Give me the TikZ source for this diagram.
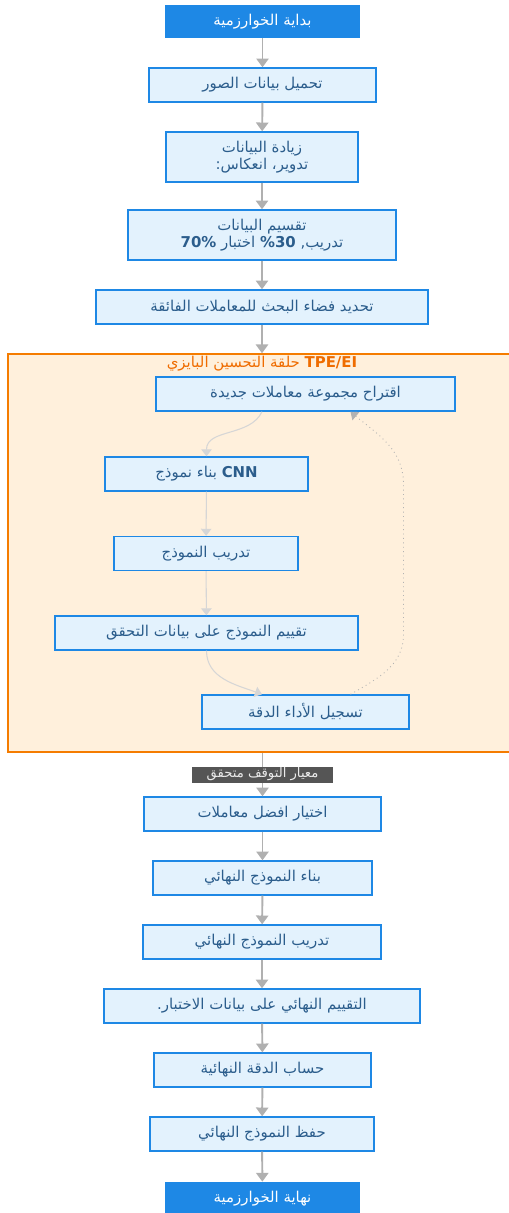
\documentclass[tikz,border=0pt]{standalone}
\usepackage{fontspec}
\usetikzlibrary{arrows.meta,calc}
\TeXXeTstate=1
\newfontfamily\arabicfont[Script=Arabic]{DejaVu Sans}
\newcommand{\artxt}[1]{\beginR #1\endR}
\definecolor{stepblue}{HTML}{1E88E5}
\definecolor{stepfill}{HTML}{E3F2FD}
\definecolor{steptext}{HTML}{2B5D8C}
\definecolor{loopfill}{HTML}{FFF0DC}
\definecolor{loopdraw}{HTML}{F57C00}
\definecolor{looptext}{HTML}{EF6C00}
\definecolor{flowgray}{HTML}{B0B0B0}
\definecolor{innergray}{HTML}{D6D6D6}
\definecolor{tagfill}{HTML}{555555}
\tikzset{
  base/.style={rectangle,inner sep=0pt,align=center,font=\arabicfont\fontsize{8.5}{10}\selectfont},
  terminal/.style={base,fill=stepblue,text=white,minimum width=39mm,minimum height=6.6mm},
  stepbox/.style={base,fill=stepfill,draw=stepblue,line width=0.8pt,text=steptext,minimum height=6.8mm},
  loopbox/.style={rectangle,fill=loopfill,draw=loopdraw,line width=0.9pt,minimum width=100.8mm,minimum height=79.6mm},
  looptitle/.style={font=\arabicfont\fontsize{8.5}{10}\selectfont,text=looptext,inner sep=0pt},
  tag/.style={rectangle,fill=tagfill,text=black!8,inner sep=0pt,minimum width=28.4mm,minimum height=3.2mm,font=\arabicfont\fontsize{7.5}{8}\selectfont},
  flow/.style={draw=flowgray,line width=1.1pt,-{Triangle[length=5pt,width=7pt]}},
  inner/.style={draw=innergray,line width=0.6pt,-{Triangle[length=4pt,width=6pt]}},
  back/.style={draw=black!30,line width=0.5pt,dotted,-{Triangle[length=4pt,width=6pt]}}
}
\begin{document}
\begin{tikzpicture}[x=0.02cm,y=-0.02cm]
\useasboundingbox (0,0) rectangle (509,1213);
% main chain, top part
\node[terminal] (start) at (262.5,21.5) {\artxt{بداية الخوارزمية}};
\node[stepbox,minimum width=45.4mm] (load) at (262.5,85) {\artxt{تحميل بيانات الصور}};
\node[stepbox,minimum width=38.4mm,minimum height=10mm] (augment) at (262,157) {\artxt{زيادة البيانات}\\\artxt{تدوير، انعكاس:}};
\node[stepbox,minimum width=53.6mm,minimum height=10mm] (split) at (262,235) {\artxt{تقسيم البيانات}\\\artxt{تدريب, \beginL\textbf{\%30}\endL{} اختبار \beginL\textbf{70\%}\endL}};
\node[stepbox,minimum width=66.4mm] (space) at (262,307) {\artxt{تحديد فضاء البحث للمعاملات الفائقة}};
% optimisation loop
\node[loopbox] (loop) at (260,553) {};
\node[looptitle] (title) at (262,364) {\artxt{\beginL\textbf{TPE/EI}\endL{} حلقة التحسين البايزي}};
\node[stepbox,minimum width=59.8mm] (propose) at (305.5,394) {\artxt{اقتراح مجموعة معاملات جديدة}};
\node[stepbox,minimum width=40.6mm] (cnn) at (206.5,474) {\artxt{\beginL\textbf{CNN}\endL{} بناء نموذج}};
\node[stepbox,minimum width=36.8mm] (train) at (206,553.5) {\artxt{تدريب النموذج}};
\node[stepbox,minimum width=60.6mm] (check) at (206.5,633) {\artxt{تقييم النموذج على بيانات التحقق}};
\node[stepbox,minimum width=41.4mm] (record) at (305.5,712) {\artxt{تسجيل الأداء الدقة}};
% main chain, bottom part
\node[stepbox,minimum width=47.4mm] (best) at (262.5,814) {\artxt{اختيار افضل معاملات}};
\node[stepbox,minimum width=43.8mm] (final) at (262.5,878) {\artxt{بناء النموذج النهائي}};
\node[stepbox,minimum width=47.6mm] (trainf) at (262,942) {\artxt{تدريب النموذج النهائي}};
\node[stepbox,minimum width=63.2mm] (test) at (262,1006) {\artxt{التقييم النهائي على بيانات الاختبار.}};
\node[stepbox,minimum width=43.4mm] (acc) at (262.5,1070) {\artxt{حساب الدقة النهائية}};
\node[stepbox,minimum width=44.8mm] (save) at (262,1134) {\artxt{حفظ النموذج النهائي}};
\node[terminal] (finish) at (262.5,1198.5) {\artxt{نهاية الخوارزمية}};
% connectors
\foreach \a/\b in {start/load,load/augment,augment/split,split/space,best/final,final/trainf,trainf/test,test/acc,acc/save,save/finish}
  \draw[flow] (\a) -- (\b);
\draw[flow] (space) -- (space |- loop.north);
\draw[flow] (loop.south -| best) -- node[tag]{\artxt{معيار التوقف متحقق}} (best);
\draw[inner] ($(propose.south)+(-43.5,0)$) to[out=-115,in=90] (cnn.north);
\draw[inner] (cnn) -- (train);
\draw[inner] (train) -- (check);
\draw[inner] (check.south) to[out=-90,in=160] ($(record.north)+(-43.5,0)$);
\draw[back] ($(record.north)+(45,0)$) to[out=30,in=-90] ++(53,-60) -- ++(0,-150) to[out=90,in=-40] ($(propose.south)+(45,0)$);
\end{tikzpicture}
\end{document}
